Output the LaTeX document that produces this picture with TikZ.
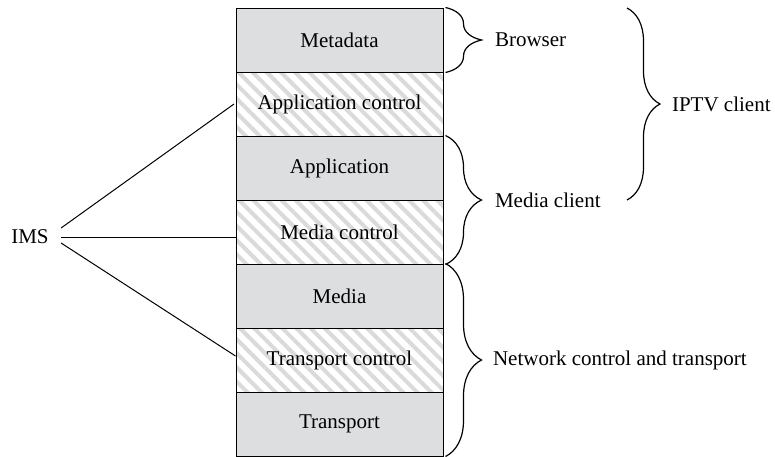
\documentclass[tikz,border=0pt]{standalone}
\usepackage{fontspec}
\setmainfont{Liberation Serif}
\usetikzlibrary{patterns.meta,decorations.pathreplacing}
\definecolor{boxgray}{RGB}{221,222,224}
\definecolor{hatch}{RGB}{218,218,218}

\begin{document}
\begin{tikzpicture}[x=0.5pt, y=-0.5pt,
		every node/.style={font=\fontsize{10.5}{12}\selectfont},
		layer/.style={draw, line width=0.5pt, minimum width=103.5pt, minimum height=32pt, inner sep=0pt},
		plain/.style={layer, fill=boxgray},
		ctrl/.style={layer, pattern={Lines[angle=-45, distance=5pt, line width=2pt]}, pattern color=hatch},
		brc/.style={decorate, decoration={brace, amplitude=18pt}, line width=0.6pt}]
		% \draw[help lines] (0,0) grid (775,456);
		\useasboundingbox (0,0) rectangle (775,456);

		\node[plain] (meta) at (339.5,40) {Metadata};
		\node[ctrl] (appctl) at (339.5,104) {Application control};
		\node[plain] (app) at (339.5,168) {Application};
		\node[ctrl] (medctl) at (339.5,232) {Media control};
		\node[plain] (media) at (339.5,296) {Media};
		\node[ctrl] (trctl) at (339.5,360) {Transport control};
		\node[plain] (tr) at (339.5,424) {Transport};

		\node[inner xsep=6pt] (ims) at (30,237) {IMS};
		\draw[line width=0.5pt] ([yshift=4.5pt]ims.east) -- (appctl.west);
		\draw[line width=0.5pt] (ims.east) -- (ims.east -| medctl.west);
		\draw[line width=0.5pt] ([yshift=-3pt]ims.east) -- ([yshift=2pt]trctl.west);

		\coordinate (itop) at (627,8);
		\coordinate (ibot) at (627,200);
		\draw[brc] ([xshift=1pt]meta.north east) -- ([xshift=1pt]meta.south east);
		\draw[brc] ([xshift=1pt]app.north east) -- ([xshift=1pt]medctl.south east);
		\draw[brc] ([xshift=1pt]media.north east) -- ([xshift=1pt]tr.south east);
		\draw[brc, decoration={amplitude=16.5pt}] (itop) -- (ibot);

		\node[anchor=west] (brw) at (488,40) {Browser};
		\node[anchor=west] (mcl) at (488,200) {Media client};
		\node[anchor=west] (net) at (486,360) {Network control and transport};
		\node[anchor=west] (iptv) at (665,104) {IPTV client};
	\end{tikzpicture}
\end{document}
